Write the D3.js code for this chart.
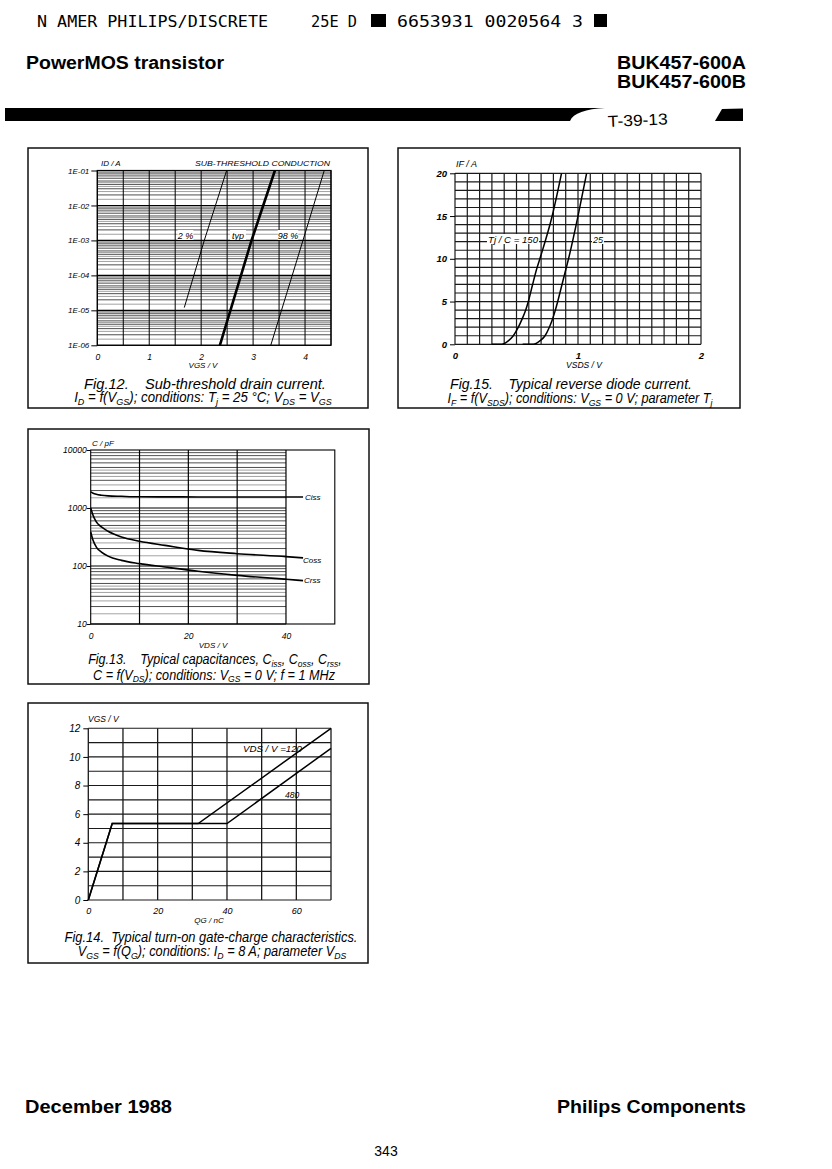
<!DOCTYPE html>
<html>
<head>
<meta charset="utf-8">
<script src="https://cdn.jsdelivr.net/npm/d3@7"></script>
<style>
  body { margin: 0; background: #fff; }
  svg text { white-space: pre; }
</style>
</head>
<body>
<svg id="page" width="832" height="1169" font-family="Liberation Sans, Arial, sans-serif"></svg>
<script>
// ---- Fig.12 sub-threshold drain current (VGS in V, ID in A)
const subTickLabels = ["1E-01", "1E-02", "1E-03", "1E-04", "1E-05", "1E-06"];
const subTickValues = [1e-1, 1e-2, 1e-3, 1e-4, 1e-5, 1e-6];
const subVgsTicks = [0, 1, 2, 3, 4];
const sub2Vgs = [1.675, 2.06, 2.49];
const sub2Id = [1.2e-5, 1e-3, 1e-1];
const subTypVgs = [2.36, 2.97, 3.42];
const subTypId = [1e-6, 1e-3, 1e-1];
const sub98Vgs = [3.34, 3.96, 4.37];
const sub98Id = [1e-6, 1e-3, 1e-1];

// ---- Fig.15 reverse diode current (VSDS in V, IF in A)
const diodeVTicks = [0, 1, 2];
const diodeITicks = [0, 5, 10, 15, 20];
const diode150V = [0.30, 0.38, 0.433, 0.474, 0.515, 0.547, 0.575, 0.596, 0.631, 0.664, 0.69, 0.79, 0.866];
const diode150I = [0, 0, 0.4, 1, 2, 3, 4, 5, 7, 8.8, 10, 15, 20];
const diode25V = [0.55, 0.637, 0.69, 0.732, 0.767, 0.794, 0.816, 0.835, 0.87, 0.902, 0.923, 1.0, 1.07];
const diode25I = [0, 0, 0.4, 1, 2, 3, 4, 5, 7, 8.8, 10, 15, 20];

// ---- Fig.13 capacitances (VDS in V, C in pF)
const capTickValues = [10000, 1000, 100, 10];
const capTickLabels = ["10000", "1000", "100", "10"];
const capVds = [0, 0.48, 1.15, 2.2, 3.55, 6.3, 10, 15.2, 22, 30, 40, 43.5];
const capCiss = [1900, 1800, 1720, 1660, 1620, 1590, 1560, 1555, 1552, 1550, 1548, 1545];
const capCoss = [1000, 750, 575, 471, 397, 316, 267, 227, 186, 163, 145, 138];
const capCrss = [386, 277, 212, 174, 148, 125, 110, 96, 81, 69, 59, 56];

// ---- Fig.14 gate charge (QG in nC, VGS in V)
const gateQTicks = [0, 20, 40, 60];
const gateVTicks = [0, 2, 4, 6, 8, 10, 12];
const gate120Q = [0, 6.9, 31.7, 70];
const gate120V = [0, 5.34, 5.34, 12];
const gate480Q = [0, 6.9, 40, 70];
const gate480V = [0, 5.34, 5.34, 10.6];

const svg = d3.select("#page");
svg.append("rect").attr("width", 832).attr("height", 1169).attr("fill", "#fff");

function txt(x, y, s, size, opts = {}) {
  const t = svg.append("text").attr("x", x).attr("y", y).attr("font-size", size).text(s);
  if (opts.italic) t.attr("font-style", "italic");
  if (opts.bold) t.attr("font-weight", "bold");
  if (opts.anchor) t.attr("text-anchor", opts.anchor);
  if (opts.len) t.attr("textLength", opts.len).attr("lengthAdjust", "spacingAndGlyphs");
  if (opts.family) t.attr("font-family", opts.family);
  return t;
}

// caption line with subscripts: parts = [[text, isSub], ...]
// the line is squeezed horizontally so it spans `len` pixels, like the condensed print
function caption(cx, y, len, parts, size = 14) {
  const t = svg.append("text").attr("x", 0).attr("y", 0).attr("font-size", size)
    .attr("font-style", "italic").attr("text-anchor", "middle");
  let down = false;
  parts.forEach(([s, sub]) => {
    const sp = t.append("tspan").text(s);
    if (sub && !down) { sp.attr("dy", 2.6).attr("font-size", size * 0.68); down = true; }
    else if (sub) sp.attr("font-size", size * 0.68);
    else if (down) { sp.attr("dy", -2.6); down = false; }
  });
  const w = t.node().getComputedTextLength() || len;
  t.attr("transform", `translate(${cx},${y}) scale(${len / w},1)`);
}

function box(x0, y0, x1, y1) {
  svg.append("rect").attr("x", x0).attr("y", y0).attr("width", x1 - x0).attr("height", y1 - y0)
    .attr("fill", "none").attr("stroke", "#111").attr("stroke-width", 1.5);
}

function styleAxis(g, fs) {
  g.attr("font-family", "Liberation Sans, Arial, sans-serif").attr("font-size", fs)
    .attr("font-style", "italic");
  g.select(".domain").remove();
  g.selectAll("line").attr("stroke", "#000");
  g.selectAll("text").attr("fill", "#000");
}

function hline(g, x0, x1, y, col, w) {
  g.append("line").attr("x1", x0).attr("x2", x1).attr("y1", y).attr("y2", y)
    .attr("stroke", col).attr("stroke-width", w);
}
function vline(g, x, y0, y1, col, w) {
  g.append("line").attr("x1", x).attr("x2", x).attr("y1", y0).attr("y2", y1)
    .attr("stroke", col).attr("stroke-width", w);
}

const logMinors = [1, 1.5, 2, 2.5, 3, 3.5, 4, 4.5, 5, 6, 7, 8, 9];
function minorColor(m) { return m === 1 ? ["#000", 1.1] : (Number.isInteger(m) ? ["#222", 0.8] : ["#8a8a8a", 0.8]); }

// ---------------- header ----------------
const mono = "DejaVu Sans Mono, monospace";
txt(37, 27, "N AMER PHILIPS/DISCRETE", 16, { family: mono, len: 231 });
txt(311, 27, "25E D", 16, { family: mono, len: 46 });
svg.append("rect").attr("x", 371).attr("y", 14).attr("width", 15).attr("height", 13).attr("fill", "#000");
txt(397, 27, "6653931 0020564 3", 16, { family: mono, len: 186 });
svg.append("rect").attr("x", 594).attr("y", 14).attr("width", 13).attr("height", 13).attr("fill", "#000");

txt(26, 69, "PowerMOS transistor", 18, { bold: true, len: 198 });
txt(746, 69, "BUK457-600A", 18, { bold: true, anchor: "end", len: 129 });
txt(746, 88, "BUK457-600B", 18, { bold: true, anchor: "end", len: 129 });

svg.append("path").attr("d", "M5,108 L605,108 C586,109 573,113 570,121 L5,121 Z").attr("fill", "#000");
svg.append("path").attr("d", "M722,109 L743,108.5 L743,121 L715,121 Z").attr("fill", "#000");
txt(608, 127, "T-39-13", 16, { len: 60 }).attr("transform", "rotate(-2.5 608 127)");

// ---------------- Fig.12 ----------------
(function () {
  box(28, 148, 368, 408);
  const x = d3.scaleLinear().domain([0, 4.5]).range([97.3, 331]);
  const y = d3.scaleLog().domain([1e-6, 1e-1]).range([345.3, 170.5]);
  const g = svg.append("g");
  for (let e = -6; e <= -2; e++) {
    logMinors.forEach(m => {
      const [c, w] = minorColor(m);
      hline(g, x(0), x(4.5), y(m * Math.pow(10, e)), c, w);
    });
  }
  hline(g, x(0), x(4.5), y(1e-1), "#000", 1.1);
  d3.range(0, 4.51, 0.5).forEach(v => vline(g, x(v), y(1e-1), y(1e-6), "#000", 1));
  g.append("rect").attr("x", x(0)).attr("y", y(1e-1)).attr("width", x(4.5) - x(0))
    .attr("height", y(1e-6) - y(1e-1)).attr("fill", "none").attr("stroke", "#000").attr("stroke-width", 1.2);

  const ya = svg.append("g").attr("transform", `translate(${x(0)},0)`)
    .call(d3.axisLeft(y).tickValues(subTickValues).tickFormat((d, i) => subTickLabels[i]).tickSize(6).tickPadding(2));
  styleAxis(ya, 8);
  const xa = svg.append("g").attr("transform", `translate(0,${y(1e-6)})`)
    .call(d3.axisBottom(x).tickValues(subVgsTicks).tickFormat(d3.format("d")).tickSize(0).tickPadding(9));
  styleAxis(xa, 8.5);

  const ln = (xs, ys) => d3.line().x((d, i) => x(xs[i])).y((d, i) => y(ys[i]))(xs);
  svg.append("path").attr("d", ln(sub2Vgs, sub2Id)).attr("fill", "none").attr("stroke", "#000").attr("stroke-width", 1);
  svg.append("path").attr("d", ln(subTypVgs, subTypId)).attr("fill", "none").attr("stroke", "#000").attr("stroke-width", 2.6);
  svg.append("path").attr("d", ln(sub98Vgs, sub98Id)).attr("fill", "none").attr("stroke", "#000").attr("stroke-width", 1);

  [["2 %", 185.5], ["typ", 238], ["98 %", 288]].forEach(([s, cx]) => {
    const w = s.length * 4.6 + 2;
    svg.append("rect").attr("x", cx - w / 2).attr("y", 230).attr("width", w).attr("height", 10).attr("fill", "#fff");
    txt(cx, 238.5, s, 9, { italic: true, anchor: "middle" });
  });

  txt(101, 166, "ID / A", 8, { italic: true });
  txt(330, 166, "SUB-THRESHOLD CONDUCTION", 8, { italic: true, anchor: "end", len: 135 });
  txt(203, 368, "VGS / V", 8, { italic: true, anchor: "middle" });
  caption(205, 388.5, 242, [["Fig.12.    Sub-threshold drain current."]]);
  caption(203, 402, 258, [["I"], ["D", 1], [" = f(V"], ["GS", 1], ["); conditions: T"], ["j", 1], [" = 25 °C; V"], ["DS", 1], [" = V"], ["GS", 1]]);
})();

// ---------------- Fig.15 ----------------
(function () {
  box(398, 148, 740, 408);
  const x = d3.scaleLinear().domain([0, 2]).range([455, 701]);
  const y = d3.scaleLinear().domain([0, 20]).range([344.3, 173.3]);
  const g = svg.append("g");
  d3.range(0, 20.5, 1).forEach(v => hline(g, x(0), x(2), y(v), "#1a1a1a", 1.2));
  d3.range(0, 20.5, 1).forEach(k => vline(g, x(k / 10), y(20), y(0), "#1a1a1a", 1.2));

  const ya = svg.append("g").attr("transform", `translate(${x(0)},0)`)
    .call(d3.axisLeft(y).tickValues(diodeITicks).tickFormat(d3.format("d")).tickSize(5).tickPadding(3));
  styleAxis(ya, 9.5);
  ya.attr("font-weight", "bold");
  const xa = svg.append("g").attr("transform", `translate(0,${y(0)})`)
    .call(d3.axisBottom(x).tickValues(diodeVTicks).tickFormat(d3.format("d")).tickSize(0).tickPadding(8));
  styleAxis(xa, 9.5);
  xa.attr("font-weight", "bold");

  const ln = (xs, ys) => d3.line().x((d, i) => x(xs[i])).y((d, i) => y(ys[i])).curve(d3.curveMonotoneX)(xs);
  svg.append("path").attr("d", ln(diode150V, diode150I)).attr("fill", "none").attr("stroke", "#000").attr("stroke-width", 1.5);
  svg.append("path").attr("d", ln(diode25V, diode25I)).attr("fill", "none").attr("stroke", "#000").attr("stroke-width", 1.5);

  svg.append("rect").attr("x", 487).attr("y", 234).attr("width", 52).attr("height", 10).attr("fill", "#fff");
  txt(488, 242.5, "Tj / C = 150", 9, { italic: true, len: 50 });
  svg.append("rect").attr("x", 592).attr("y", 234).attr("width", 12).attr("height", 10).attr("fill", "#fff");
  txt(593, 242.5, "25", 9, { italic: true });

  txt(456, 167, "IF / A", 9, { italic: true });
  txt(584, 368, "VSDS / V", 8.5, { italic: true, anchor: "middle" });
  caption(571, 388.5, 242, [["Fig.15.    Typical reverse diode current."]]);
  caption(580, 403, 265, [["I"], ["F", 1], [" = f(V"], ["SDS", 1], ["); conditions: V"], ["GS", 1], [" = 0 V; parameter T"], ["j", 1]]);
})();

// ---------------- Fig.13 ----------------
(function () {
  box(28, 429, 369, 684);
  const x = d3.scaleLinear().domain([0, 50]).range([90.7, 334.8]);
  const y = d3.scaleLog().domain([10, 10000]).range([624, 450]);
  const g = svg.append("g");
  for (let e = 1; e <= 3; e++) {
    logMinors.forEach(m => {
      const [c, w] = minorColor(m);
      hline(g, x(0), x(40), y(m * Math.pow(10, e)), c, w);
    });
  }
  [10, 20, 30, 40].forEach(v => vline(g, x(v), y(10000), y(10), "#000", 1.2));
  g.append("rect").attr("x", x(0)).attr("y", y(10000)).attr("width", x(50) - x(0))
    .attr("height", y(10) - y(10000)).attr("fill", "none").attr("stroke", "#000").attr("stroke-width", 1.1);

  const ya = svg.append("g").attr("transform", `translate(${x(0)},0)`)
    .call(d3.axisLeft(y).tickValues(capTickValues).tickFormat((d, i) => capTickLabels[i]).tickSize(4).tickPadding(0));
  styleAxis(ya, 8.5);
  const xa = svg.append("g").attr("transform", `translate(0,${y(10)})`)
    .call(d3.axisBottom(x).tickValues([0, 20, 40]).tickFormat(d3.format("d")).tickSize(0).tickPadding(9));
  styleAxis(xa, 8.5);

  const ln = ys => d3.line().x((d, i) => x(capVds[i])).y((d, i) => y(ys[i])).curve(d3.curveMonotoneX)(capVds);
  [capCiss, capCoss, capCrss].forEach(s =>
    svg.append("path").attr("d", ln(s)).attr("fill", "none").attr("stroke", "#000").attr("stroke-width", 1.6));
  txt(305, 500, "Ciss", 8, { italic: true });
  txt(303, 562.5, "Coss", 8, { italic: true });
  txt(304, 583, "Crss", 8, { italic: true });

  txt(92, 446, "C / pF", 8, { italic: true });
  txt(213, 648, "VDS / V", 8, { italic: true, anchor: "middle" });
  caption(215, 664, 254, [["Fig.13.    Typical capacitances, C"], ["iss", 1], [", C"], ["oss", 1], [", C"], ["rss", 1], [","]]);
  caption(214, 679.5, 242, [["C = f(V"], ["DS", 1], ["); conditions: V"], ["GS", 1], [" = 0 V; f = 1 MHz"]]);
})();

// ---------------- Fig.14 ----------------
(function () {
  box(28, 703, 368, 963);
  const x = d3.scaleLinear().domain([0, 70]).range([88.3, 331]);
  const y = d3.scaleLinear().domain([0, 12]).range([900, 728.3]);
  const g = svg.append("g");
  d3.range(0, 12.5, 1).forEach(v => hline(g, x(0), x(70), y(v), "#1a1a1a", 1.1));
  d3.range(0, 70.5, 10).forEach(v => vline(g, x(v), y(12), y(0), "#1a1a1a", 1.3));

  const ya = svg.append("g").attr("transform", `translate(${x(0)},0)`)
    .call(d3.axisLeft(y).tickValues(gateVTicks).tickFormat(d3.format("d")).tickSize(5).tickPadding(3));
  styleAxis(ya, 10);
  const xa = svg.append("g").attr("transform", `translate(0,${y(0)})`)
    .call(d3.axisBottom(x).tickValues(gateQTicks).tickFormat(d3.format("d")).tickSize(0).tickPadding(8));
  styleAxis(xa, 9);

  const ln = (xs, ys) => d3.line().x((d, i) => x(xs[i])).y((d, i) => y(ys[i]))(xs);
  svg.append("path").attr("d", ln(gate120Q, gate120V)).attr("fill", "none").attr("stroke", "#000").attr("stroke-width", 1.5);
  svg.append("path").attr("d", ln(gate480Q, gate480V)).attr("fill", "none").attr("stroke", "#000").attr("stroke-width", 1.5);

  txt(243, 751.5, "VDS / V =120", 8.5, { italic: true, len: 59 });
  txt(285, 797.5, "480", 8.5, { italic: true });

  txt(88, 722, "VGS / V", 8.5, { italic: true });
  txt(209, 923, "QG / nC", 8, { italic: true, anchor: "middle" });
  caption(211, 941.5, 293, [["Fig.14.  Typical turn-on gate-charge characteristics."]]);
  caption(212, 956, 269, [["V"], ["GS", 1], [" = f(Q"], ["G", 1], ["); conditions: I"], ["D", 1], [" = 8 A; parameter V"], ["DS", 1]]);
})();

// ---------------- footer ----------------
txt(25, 1113, "December 1988", 18, { bold: true, len: 147 });
txt(746, 1113, "Philips Components", 18, { bold: true, anchor: "end", len: 189 });
txt(386, 1156, "343", 14, { anchor: "middle" });
</script>
</body>
</html>
